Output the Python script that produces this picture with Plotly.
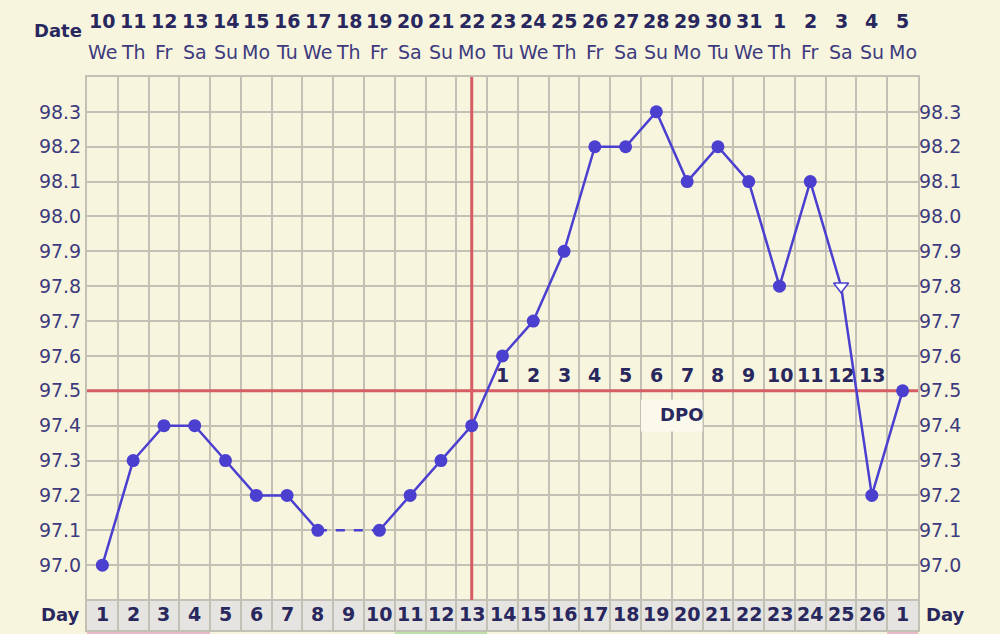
import plotly.graph_objects as go

cycle_days = list(range(1, 28))
day_labels = [str(d) for d in range(1, 27)] + ["1"]
dates = [str(d) for d in range(10, 32)] + ["1", "2", "3", "4", "5"]
weekdays = ["We", "Th", "Fr", "Sa", "Su", "Mo", "Tu", "We", "Th", "Fr", "Sa", "Su", "Mo", "Tu",
            "We", "Th", "Fr", "Sa", "Su", "Mo", "Tu", "We", "Th", "Fr", "Sa", "Su", "Mo"]
temps = [97.0, 97.3, 97.4, 97.4, 97.3, 97.2, 97.2, 97.1, None, 97.1, 97.2, 97.3, 97.4,
         97.6, 97.7, 97.9, 98.2, 98.2, 98.3, 98.1, 98.2, 98.1, 97.8, 98.1, 97.8, 97.2, 97.5]
open_marker_days = [25]
dpo_labels = [str(i) for i in range(1, 14)]
dpo_days = list(range(14, 27))
coverline = 97.5
ovulation_day = 13
y_ticks = [round(96.9 + 0.1 * i, 1) for i in range(16)]

BG = "#f8f5df"
GRID = "#c3c0b5"
NAVY = "#28275e"
TICK = "#3d3b7d"
LINE = "#4b3fd0"
RED = "#d65d64"
FONT = "DejaVu Sans"
FS = 19

W, H = 1000, 634
ML, MR, MT, MB = 87, 82, 77, 4
plot_h = H - MT - MB
plot_w = W - ML - MR
def py(pix):
    return (H - MB - pix) / plot_h
def px(pix):
    return (pix - ML) / plot_w

fig = go.Figure()

fig.add_trace(go.Scatter(
    x=cycle_days, y=temps, mode="lines", connectgaps=False,
    line=dict(color=LINE, width=2.5), hoverinfo="skip", showlegend=False))
gap_i = temps.index(None)
fig.add_trace(go.Scatter(
    x=[cycle_days[gap_i - 1], cycle_days[gap_i + 1]],
    y=[temps[gap_i - 1], temps[gap_i + 1]], mode="lines",
    line=dict(color=LINE, width=2.5, dash="dash"), showlegend=False))
mx = [d for d, t in zip(cycle_days, temps) if t is not None and d not in open_marker_days]
my = [t for d, t in zip(cycle_days, temps) if t is not None and d not in open_marker_days]
fig.add_trace(go.Scatter(x=mx, y=my, mode="markers",
                         marker=dict(color=LINE, size=13, line=dict(width=0)), showlegend=False))
ox = list(open_marker_days)
oy = [temps[d - 1] for d in open_marker_days]
fig.add_trace(go.Scatter(x=ox, y=oy, mode="markers",
                         marker=dict(symbol="triangle-down", color="white", size=13,
                                     line=dict(color=LINE, width=1.5)), showlegend=False))
fig.add_trace(go.Scatter(x=[1], y=[97.0], yaxis="y2", mode="markers",
                         marker=dict(opacity=0), hoverinfo="skip", showlegend=False))

shapes = []
shapes.append(dict(type="rect", xref="x", yref="y", x0=0.5, x1=27.5, y0=96.814, y1=96.9,
                   fillcolor="#e5e4e0", line=dict(width=0), layer="below"))
for x0, x1, col in [(0.5, 4.5, "#e8b9c4"), (10.5, 13.5, "#bfe0a8"), (26.5, 27.5, "#e8b9c4")]:
    shapes.append(dict(type="rect", xref="x", yref="paper", x0=x0, x1=x1, y0=-MB / plot_h, y1=0,
                       fillcolor=col, line=dict(width=0), layer="below"))
shapes.append(dict(type="rect", xref="x", yref="y", x0=18.5, x1=20.5, y0=97.383, y1=97.474,
                   fillcolor="#fbf9ec", line=dict(width=0), layer="between"))
shapes.append(dict(type="line", xref="x", yref="y", x0=0.5, x1=27.5, y0=coverline, y1=coverline,
                   line=dict(color=RED, width=3), layer="between"))
shapes.append(dict(type="line", xref="x", yref="y", x0=ovulation_day, x1=ovulation_day,
                   y0=96.9, y1=98.4, line=dict(color=RED, width=3), layer="between"))

annotations = []
def ann(x, y, text, xref="x", yref="paper", color=NAVY, size=FS):
    annotations.append(dict(x=x, y=y, xref=xref, yref=yref, text=text, showarrow=False,
                            xanchor="center", yanchor="middle",
                            font=dict(family=FONT, size=size, color=color)))

for d, lab in zip(cycle_days, dates):
    ann(d, py(21), f"<b>{lab}</b>")
for d, lab in zip(cycle_days, weekdays):
    ann(d, py(52), lab, color=TICK)
for d, lab in zip(cycle_days, day_labels):
    ann(d, py(614), f"<b>{lab}</b>")
for d, lab in zip(dpo_days, dpo_labels):
    ann(d, 97.545, f"<b>{lab}</b>", yref="y")
ann(19.8, 97.431, "<b>DPO</b>", yref="y", size=18)
ann(px(58), py(30), "<b>Date</b>", xref="paper", size=18)
ann(px(60), py(614), "<b>Day</b>", xref="paper", size=18)
ann(px(945), py(614), "<b>Day</b>", xref="paper", size=18)

tick_text = ["" if (v < 96.95 or v > 98.35) else f"{v:.1f}" for v in y_ticks]

fig.update_layout(
    width=W, height=H,
    margin=dict(l=ML, r=MR, t=MT, b=MB),
    paper_bgcolor=BG, plot_bgcolor=BG,
    shapes=shapes, annotations=annotations,
    xaxis=dict(range=[0.5, 27.5], tickvals=[i + 0.5 for i in range(28)], showticklabels=False,
               showgrid=True, gridcolor=GRID, gridwidth=2, zeroline=False,
               showline=True, linecolor=GRID, linewidth=2, mirror=True, ticks=""),
    yaxis=dict(range=[96.814, 98.4], tickvals=y_ticks, ticktext=tick_text,
               showgrid=True, gridcolor=GRID, gridwidth=2, zeroline=False,
               showline=True, linecolor=GRID, linewidth=2, mirror=True, ticks="",
               tickfont=dict(family=FONT, size=FS, color=TICK)),
    yaxis2=dict(range=[96.814, 98.4], tickvals=y_ticks, ticktext=tick_text, overlaying="y",
                side="right", showgrid=False, zeroline=False, ticks="",
                tickfont=dict(family=FONT, size=FS, color=TICK)),
    font=dict(family=FONT),
)

fig.write_html("out.html", config={"displayModeBar": False},
               post_script="document.body.style.margin='0';document.body.style.background='" + BG + "';")
